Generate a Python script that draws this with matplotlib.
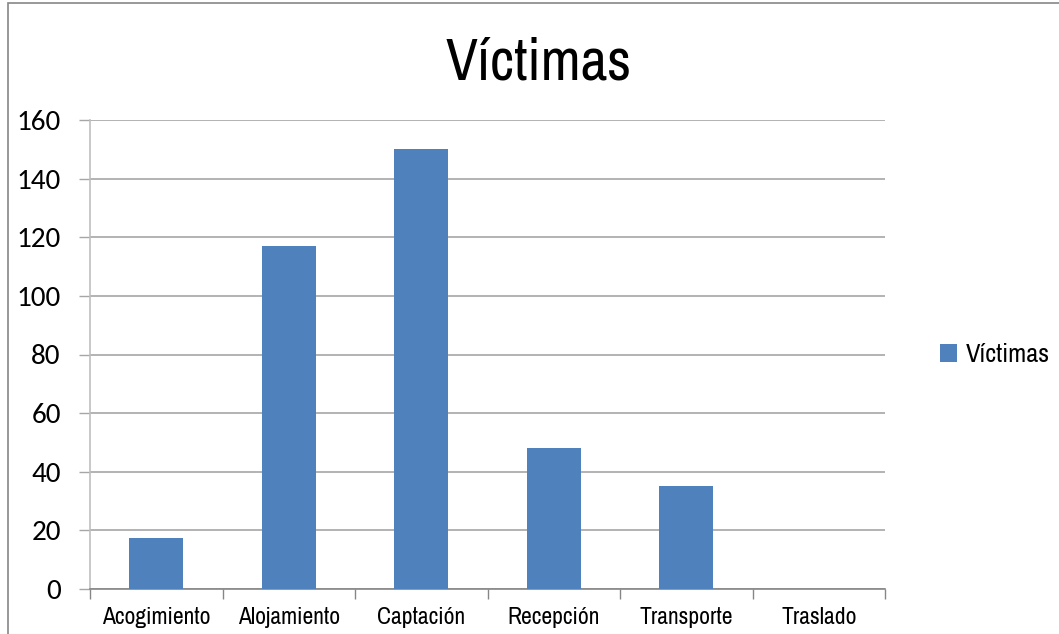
import matplotlib
matplotlib.use('Agg')
import matplotlib.pyplot as plt
from matplotlib.patches import Rectangle

# Datos
categorias = ['Acogimiento', 'Alojamiento', 'Captación', 'Recepción', 'Transporte', 'Traslado']
victimas = [17.5, 117, 150, 48, 35, 0]
ticks_y = [0, 20, 40, 60, 80, 100, 120, 140, 160]

estrecha = ['Archivo Narrow', 'PT Sans Narrow', 'DejaVu Sans']
numeros = ['Carlito', 'Lato', 'DejaVu Sans']

azul = '#4f81bd'
gris = '#a6a6a6'

fig = plt.figure(figsize=(10.59, 6.34), dpi=100)
ax = fig.add_axes([90 / 1059, 1 - 589 / 634, 795 / 1059, 469 / 634])

x = range(len(categorias))
ax.bar(x, victimas, width=0.41, color=azul, label='Víctimas', zorder=3)

ax.set_xlim(-0.5, len(categorias) - 0.5)
ax.set_ylim(0, 160)
ax.set_yticks(ticks_y)
ax.set_yticklabels([str(t) for t in ticks_y], fontsize=21, family=numeros)
ax.yaxis.grid(True, color=gris, linewidth=1.2, zorder=0)

# marcas del eje x entre categorias
ax.set_xticks([i - 0.5 for i in range(len(categorias) + 1)])
ax.set_xticklabels([])
ax.set_xticks(list(x), minor=True)
ax.set_xticklabels(categorias, minor=True, fontsize=17, family=estrecha)
ax.tick_params(axis='x', which='major', length=7, color='#868686', width=1)
ax.tick_params(axis='x', which='minor', length=0, pad=13)
ax.tick_params(axis='y', length=8, color=gris, width=1, pad=13)

for lado in ['top', 'right']:
    ax.spines[lado].set_visible(False)
ax.spines['left'].set_color('#bfbfbf')
ax.spines['bottom'].set_color('#868686')
ax.spines['left'].set_linewidth(1.2)
ax.spines['bottom'].set_linewidth(1.2)

fig.text(539 / 1059, 1 - 63 / 634, 'Víctimas', ha='center', va='center',
         fontsize=42, family=estrecha)

ax.legend(loc='center left', bbox_to_anchor=(1.039, 0.5), frameon=False,
          prop={'family': estrecha, 'size': 19}, handlelength=0.65,
          handleheight=0.65, handletextpad=0.35)

# marco del grafico
fig.patches.append(Rectangle((8 / 1059, -0.1), 1.2, 1.1 - 3 / 634,
                             transform=fig.transFigure, fill=False,
                             edgecolor='#868686', linewidth=1.2))

fig.savefig('out.png', dpi=100)
